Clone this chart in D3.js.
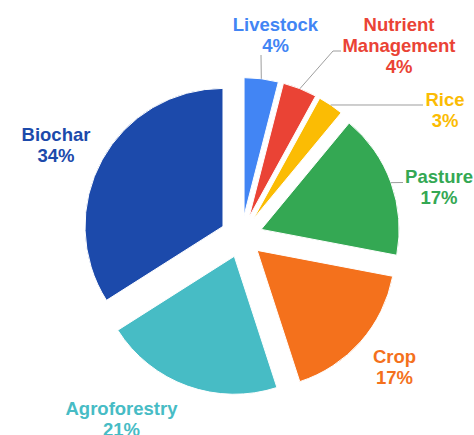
<!DOCTYPE html>
<html>
<head>
<meta charset="utf-8">
<script src="https://cdn.jsdelivr.net/npm/d3@7"></script>
<style>
  html, body { margin: 0; padding: 0; background: #fff; }
  svg { display: block; }
  text { font-family: Arial, "Liberation Sans", sans-serif; font-weight: bold; }
</style>
</head>
<body>
<svg id="chart" width="474" height="435"></svg>
<script>
// ---- data ----
const categories = ["Livestock", "Nutrient Management", "Rice", "Pasture", "Crop", "Agroforestry", "Biochar"];
const values = [4, 4, 3, 17, 17, 21, 34];
const labelLines = [["Livestock"], ["Nutrient", "Management"], ["Rice"], ["Pasture"], ["Crop"], ["Agroforestry"], ["Biochar"]];

// ---- styles / layout ----
const colors = ["#4285f4", "#ea4335", "#fbbc04", "#34a853", "#f4711c", "#47bcc5", "#1c4aab"];
const cx = 241.4, cy = 236.5, radius = 138, explode = 21;
const fontSize = 18.5, lineHeight = 21;
// label anchor (center x, first baseline y)
const labelPos = [[275.5, 31], [399, 31], [445, 106], [439, 183], [394.5, 363], [121.5, 415], [56, 141]];
// leader line end points (null = no leader)
const leaderEnds = [
  [[261, 55]],
  [[333, 51], [341, 51]],
  [[423, 105]],
  [[403, 182.5]],
  null, null, null
];

const svg = d3.select("#chart");
const total = d3.sum(values);
const data = categories.map((c, i) => ({ name: c, value: values[i], i }));

const pie = d3.pie().sort(null).value(d => d.value).startAngle(0).endAngle(2 * Math.PI);
const arcs = pie(data);
const arc = d3.arc().innerRadius(0).outerRadius(radius);
const color = d3.scaleOrdinal().domain(categories).range(colors);

const g = svg.append("g").attr("transform", `translate(${cx},${cy})`);

function offset(a) {
  const m = (a.startAngle + a.endAngle) / 2;
  return [explode * Math.sin(m), -explode * Math.cos(m)];
}

// leader lines
const line = d3.line();
arcs.forEach((a, i) => {
  if (!leaderEnds[i]) return;
  const m = (a.startAngle + a.endAngle) / 2;
  const [ox, oy] = offset(a);
  const start = [cx + ox + radius * Math.sin(m), cy + oy - radius * Math.cos(m)];
  svg.append("path")
    .attr("d", line([start, ...leaderEnds[i]]))
    .attr("fill", "none")
    .attr("stroke", "#9e9e9e")
    .attr("stroke-width", 1);
});

// slices
g.selectAll("path.slice")
  .data(arcs)
  .join("path")
  .attr("class", "slice")
  .attr("transform", d => { const [ox, oy] = offset(d); return `translate(${ox},${oy})`; })
  .attr("d", arc)
  .attr("fill", d => color(d.data.name))
  .attr("stroke", "#fff")
  .attr("stroke-width", 1);

// labels
const fmt = v => Math.round(v / total * 100) + "%";
arcs.forEach((a, i) => {
  const [x, y] = labelPos[i];
  const lines = [...labelLines[i], fmt(a.data.value)];
  const t = svg.append("text")
    .attr("text-anchor", "middle")
    .attr("font-size", fontSize)
    .attr("fill", color(a.data.name));
  lines.forEach((s, k) => {
    t.append("tspan").attr("x", x).attr("y", y + k * lineHeight).text(s);
  });
});
</script>
</body>
</html>
